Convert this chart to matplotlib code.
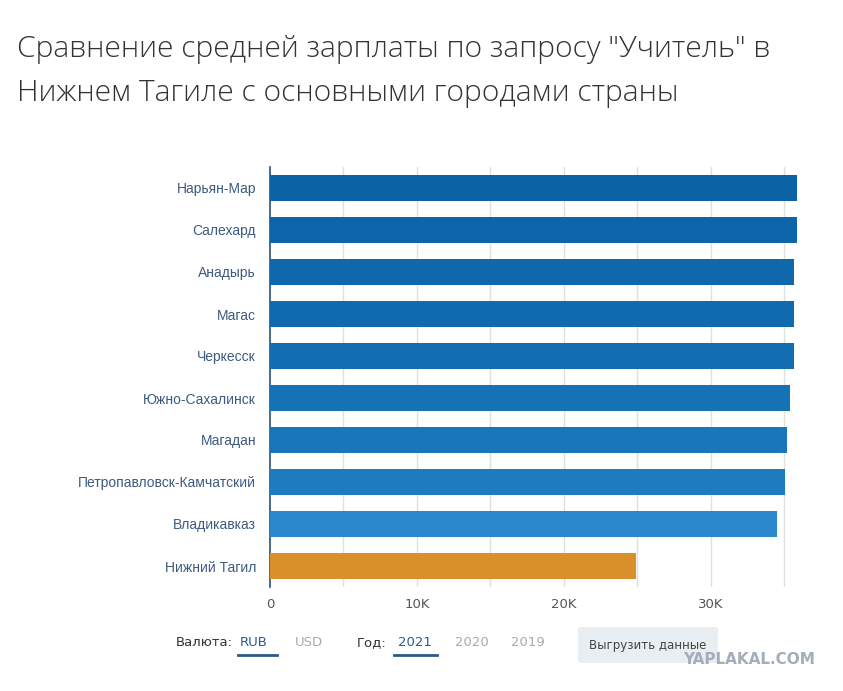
import numpy as np
import matplotlib
matplotlib.use('Agg')
import matplotlib.pyplot as plt
from matplotlib.patches import FancyBboxPatch

# data
cities = ['Нарьян-Мар', 'Салехард', 'Анадырь', 'Магас', 'Черкесск',
          'Южно-Сахалинск', 'Магадан', 'Петропавловск-Камчатский',
          'Владикавказ', 'Нижний Тагил']
salary = [35900, 35900, 35700, 35700, 35700, 35400, 35200, 35100, 34500, 24900]
bar_colors = ['#0b63a6', '#0c65a8', '#0e68ab', '#106bae', '#126eb1',
              '#1572b5', '#1976b9', '#1e7bbe', '#2a87cb', '#d9902b']
xticks = [0, 10000, 20000, 30000]
xtick_labels = ['0', '10K', '20K', '30K']
title_lines = ['Сравнение средней зарплаты по запросу "Учитель" в',
               'Нижнем Тагиле с основными городами страны']

W, H = 843, 691
fig = plt.figure(figsize=(W / 100, H / 100), dpi=100)

# axes placed in pixel coords of the reference
left, right, top, bottom = 270, 806, 167, 587
ax = fig.add_axes([left / W, 1 - bottom / H, (right - left) / W, (bottom - top) / H])

y = np.arange(len(cities))
ax.barh(y, salary, height=0.62, color=bar_colors, zorder=3)
ax.set_ylim(len(cities) - 0.5, -0.5)
ax.set_xlim(0, 36500)

for gx in range(5000, 36000, 5000):
    ax.axvline(gx, color='#e0e0e0', lw=1, zorder=1)

for s in ['top', 'right', 'bottom']:
    ax.spines[s].set_visible(False)
ax.spines['left'].set_color('#2c4f7c')
ax.spines['left'].set_linewidth(1.2)

ax.set_yticks(y)
ax.set_yticklabels(cities, fontsize=10, color='#3d5a80', family='Liberation Sans')
ax.tick_params(axis='y', length=0, pad=10)
ax.set_xticks(xticks)
ax.set_xticklabels(xtick_labels, fontsize=9.5, color='#555555', family='DejaVu Sans')
ax.tick_params(axis='x', length=0, pad=8)

# title, two lines
fig.text(17 / W, 1 - 57 / H, title_lines[0], fontsize=21.6, color='#333333',
         family='Open Sans', fontweight='light', va='baseline', ha='left')
fig.text(17 / W, 1 - 101 / H, title_lines[1], fontsize=21.6, color='#333333',
         family='Open Sans', fontweight='light', va='baseline', ha='left')

# bottom controls
def label(x, text, color, under=None):
    fig.text(x / W, 1 - 643 / H, text, fontsize=9.5, color=color, va='center', ha='left',
             family='DejaVu Sans')
    if under:
        fig.add_artist(plt.Line2D([under[0] / W, under[1] / W], [1 - 655 / H] * 2,
                                  color='#2c5a8c', lw=2))

label(176, 'Валюта:', '#333333')
label(240, 'RUB', '#2c5a8c', (238, 277))
label(295, 'USD', '#aaaaaa')
label(357, 'Год:', '#333333')
label(398, '2021', '#2c5a8c', (394, 437))
label(455, '2020', '#aaaaaa')
label(511, '2019', '#aaaaaa')

btn = FancyBboxPatch((578 / W, 1 - 663 / H), 140 / W, 36 / H,
                     boxstyle='round,pad=0,rounding_size=0.004',
                     transform=fig.transFigure, facecolor='#e9eef3', edgecolor='none')
fig.add_artist(btn)
fig.text(648 / W, 1 - 646 / H, 'Выгрузить данные', fontsize=8.5, color='#444444',
         ha='center', va='center', family='DejaVu Sans')

fig.text(749 / W, 1 - 660 / H, 'YAPLAKAL.COM', fontsize=11, color='#a3adbb',
         ha='center', va='center', fontweight='bold', family='DejaVu Sans')

fig.savefig('out.png', dpi=100)
